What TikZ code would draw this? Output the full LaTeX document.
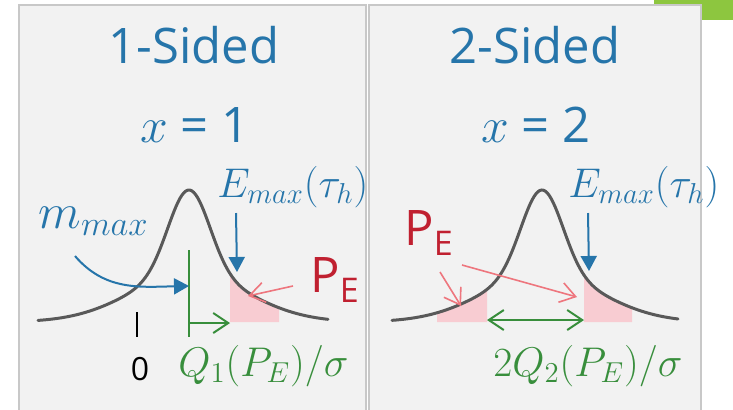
\documentclass[tikz,border=0pt]{standalone}
\usepackage{fontspec}
\setmainfont{Open Sans}
\usepackage{amsmath}
\usetikzlibrary{arrows.meta, positioning}

\definecolor{panelgray}{RGB}{242,242,242}
\definecolor{panelline}{RGB}{200,200,200}
\definecolor{cornergreen}{RGB}{141,198,63}
\definecolor{labelblue}{RGB}{38,117,170}
\definecolor{pered}{RGB}{192,32,48}
\definecolor{arrowpink}{RGB}{238,118,126}
\definecolor{tailpink}{RGB}{248,204,210}
\definecolor{qgreen}{RGB}{56,142,60}
\definecolor{curvegray}{RGB}{89,89,89}

\begin{document}
\begin{tikzpicture}[x=0.5pt, y=-0.5pt,
    declare function={bell(\t)=0.64*exp(-0.5*(\t/20.5)^2)+0.36*exp(-0.5*(\t/58)^2);},
    panel/.style={fill=panelgray, draw=panelline, line width=0.6pt},
    title/.style={text=labelblue, font=\fontsize{24.5}{29}\selectfont, inner sep=0pt, anchor=base},
    mathlabel/.style={text=labelblue, inner sep=0pt, anchor=base west},
    qlabel/.style={text=qgreen, inner sep=0pt, anchor=base west, font=\fontsize{20}{24}\selectfont},
    pelabel/.style={text=pered, inner sep=0pt, anchor=base west, font=\fontsize{24.5}{29}\selectfont},
    bellcurve/.style={draw=curvegray, line width=1.5pt, line cap=round},
    tailfill/.style={fill=tailpink},
    bluearrow/.style={-{Triangle[length=7.5pt,width=8pt]}, draw=labelblue, line width=1pt},
    pinkarrow/.style={-{Straight Barb[length=7.5pt,width=10pt]}, draw=arrowpink, line width=0.8pt},
    greenarrow/.style={-{Straight Barb[length=7.5pt,width=10pt]}, draw=qgreen, line width=1pt},
    greenboth/.style={{Straight Barb[length=7.5pt,width=10pt]}-{Straight Barb[length=7.5pt,width=10pt]}, draw=qgreen, line width=1pt}
]
    \useasboundingbox (0,0) rectangle (733,409);
    \fill[white] (0,0) rectangle (733,409);

    % corner tab and the two panels
    \fill[cornergreen] (654,0) rectangle (733,20);
    \draw[panel] (19,5) rectangle (366,415);
    \draw[panel] (369,5) rectangle (701,415);

    % ── Left panel: 1-sided ──
    \node[title] (lefttitle) at (194,63) {1-Sided};
    \node[title] (leftx)     at (195,142) {$x$ = 1};

    \fill[tailfill] (230,322) -- plot[domain=41:90, samples=40] ({189+\x},{322-132*bell(\x)}) -- (279,322) -- cycle;
    \draw[bellcurve] plot[domain=-151:139, samples=150] ({189+\x},{322-132*bell(\x)});

    \draw[qgreen, line width=1pt] (189,250) -- (189,337);
    \draw[black, line width=1pt] (137,312) -- (137,337);
    \node[anchor=base, inner sep=0pt, font=\fontsize{16}{19}\selectfont] (lzero) at (140,380) {0};

    \node[mathlabel, font=\fontsize{23}{27}\selectfont] (lmmax) at (38,228) {$m_{max}$};
    \node[mathlabel, font=\fontsize{19.5}{23}\selectfont] (lemax) at (217,197) {$E_{max}(\tau_h)$};
    \node[qlabel] (lq) at (178,376) {$Q_1(P_E)/\sigma$};
    \node[pelabel] (lpe) at (310,292) {P{\fontsize{17}{20}\selectfont\raisebox{-5pt}{E}}};

    \coordinate (lmstart) at (75,256);
    \coordinate (lmtip)   at (189,286);
    \coordinate (lestart) at (236,213);
    \coordinate (letip)   at (237,272);
    \coordinate (lpstart) at (293,286);
    \coordinate (lptip)   at (248,296);
    \coordinate (lqstart) at (189,323);
    \coordinate (lqtip)   at (230,323);

    \draw[bluearrow] (lmstart) .. controls (105,291) and (140,287) .. (lmtip);
    \draw[bluearrow] (lestart) -- (letip);
    \draw[pinkarrow] (lpstart) -- (lptip);
    \draw[greenarrow] (lqstart) -- (lqtip);

    % ── Right panel: 2-sided ──
    \node[title] (righttitle) at (535,63) {2-Sided};
    \node[title] (rightx)     at (536,142) {$x$ = 2};

    \fill[tailfill] (437,322) -- plot[domain=-105:-55, samples=40] ({542+\x},{322-132*bell(\x)}) -- (487,322) -- cycle;
    \fill[tailfill] (584,322) -- plot[domain=42:90, samples=40] ({542+\x},{322-132*bell(\x)}) -- (632,322) -- cycle;
    \draw[bellcurve] plot[domain=-150:136, samples=150] ({542+\x},{322-132*bell(\x)});

    \node[mathlabel, font=\fontsize{19.5}{23}\selectfont] (remax) at (568,197) {$E_{max}(\tau_h)$};
    \node[qlabel, font=\fontsize{21}{25}\selectfont] (rq) at (493,376) {$2Q_2(P_E)/\sigma$};
    \node[pelabel] (rpe) at (404,245) {P{\fontsize{17}{20}\selectfont\raisebox{-5pt}{E}}};

    \coordinate (restart) at (588,213);
    \coordinate (retip)   at (589,271);
    \coordinate (rpastart) at (440,272);
    \coordinate (rpatip)   at (461,306);
    \coordinate (rpbstart) at (462,265);
    \coordinate (rpbtip)   at (577,297);
    \coordinate (rqleft)  at (487,320);
    \coordinate (rqright) at (584,320);

    \draw[bluearrow] (restart) -- (retip);
    \draw[pinkarrow] (rpastart) -- (rpatip);
    \draw[pinkarrow] (rpbstart) -- (rpbtip);
    \draw[greenboth] (rqleft) -- (rqright);
\end{tikzpicture}
\end{document}
